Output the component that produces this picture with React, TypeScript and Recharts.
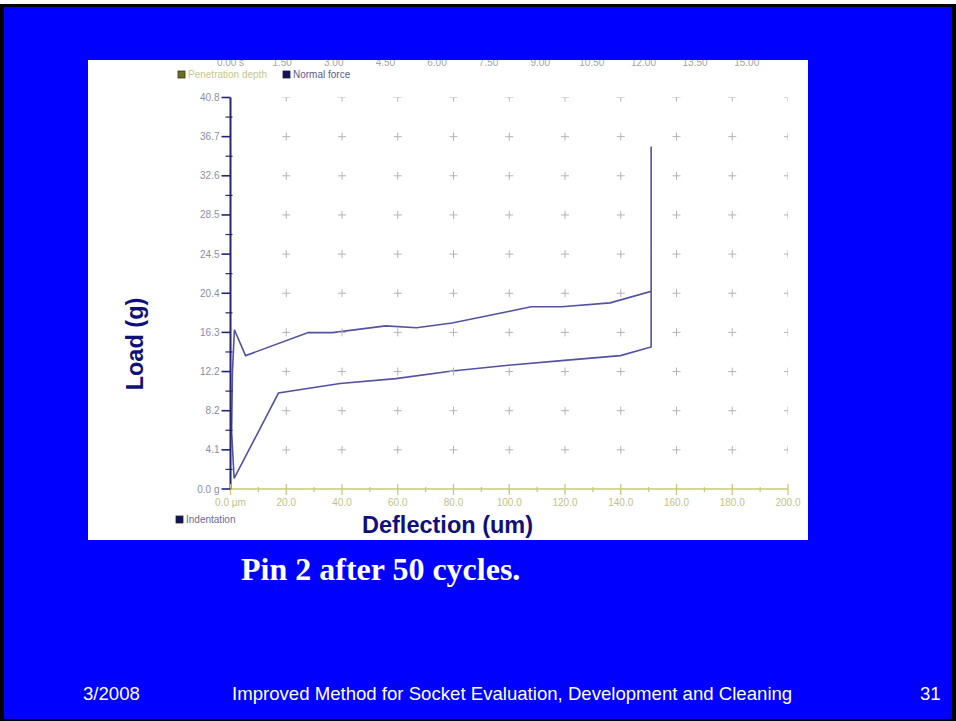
import { ComposedChart, Line, Scatter, XAxis, YAxis } from 'recharts';

// Indentation loop, points listed in the order the probe traced them
const deflectionUm = [1.3, 0.4, 0.7, 1.4, 5.4, 27.9, 36.6, 55.7, 66.7, 79.5, 99.7, 107.9, 118.8, 136.2, 150.9, 150.9, 150.9, 139.9, 119.8, 99.7, 79.5, 59.3, 39.3, 17.2, 1.3];
const loadG = [1.1, 6.0, 12.2, 16.6, 13.9, 16.3, 16.3, 17.0, 16.8, 17.3, 18.5, 19.0, 19.0, 19.4, 20.6, 35.7, 14.8, 13.9, 13.4, 12.9, 12.3, 11.5, 11.0, 10.0, 1.1];

const loadTicks = [0, 4.08, 8.16, 12.24, 16.32, 20.4, 24.48, 28.56, 32.64, 36.72, 40.8];
const loadTickLabels = ['0.0 g', '4.1', '8.2', '12.2', '16.3', '20.4', '24.5', '28.5', '32.6', '36.7', '40.8'];

const deflectionTicks = [0, 20, 40, 60, 80, 100, 120, 140, 160, 180, 200];
const deflectionTickLabels = ['0.0 µm', '20.0', '40.0', '60.0', '80.0', '100.0', '120.0', '140.0', '160.0', '180.0', '200.0'];

// elapsed time axis along the top runs on its own scale
const timeTicks = [0, 1.5, 3, 4.5, 6, 7.5, 9, 10.5, 12, 13.5, 15];
const timeTickLabels = ['0.00 s', '1.50', '3.00', '4.50', '6.00', '7.50', '9.00', '10.50', '12.00', '13.50', '15.00'];

const NAVY = '#24247a';
const OLIVE = '#c9c97a';
const FONT = 'Liberation Sans, Arial, sans-serif';

const loadMinor = loadTicks.slice(1).map((v, i) => (v + loadTicks[i]) / 2);
const deflectionMinor = deflectionTicks.slice(1).map((v, i) => (v + deflectionTicks[i]) / 2);

const curve = deflectionUm.map((x, i) => ({ x, y: loadG[i] }));

// grid crosses sit on every major tick pair away from the axes
const gridCrosses = deflectionTicks.slice(1).flatMap((x) => loadTicks.slice(1).map((y) => ({ x, y })));

const LoadTick = (props: any) => {
  const { x, y, payload } = props;
  const i = loadTicks.indexOf(payload.value);
  if (i < 0) {
    return <line x1={x - 5} x2={x + 2} y1={y} y2={y} stroke={NAVY} strokeWidth={1.2} />;
  }
  return (
    <g>
      <line x1={x - 9} x2={x} y1={y} y2={y} stroke={NAVY} strokeWidth={1.6} />
      <text x={x - 11} y={y} dy={3.5} textAnchor="end" fontSize={10} fontFamily={FONT} fill="#8c8ca8">
        {loadTickLabels[i]}
      </text>
    </g>
  );
};

const DeflectionTick = (props: any) => {
  const { x, y, payload } = props;
  const i = deflectionTicks.indexOf(payload.value);
  if (i < 0) {
    return <line x1={x} x2={x} y1={y - 2} y2={y + 3} stroke={OLIVE} strokeWidth={1.2} />;
  }
  return (
    <g>
      <line x1={x} x2={x} y1={y - 5} y2={y + 6} stroke={OLIVE} strokeWidth={1.3} />
      <text x={x} y={y + 17} textAnchor="middle" fontSize={10} fontFamily={FONT} fill="#c2c288">
        {deflectionTickLabels[i]}
      </text>
    </g>
  );
};

const TimeTick = (props: any) => {
  const { x, y, payload } = props;
  const i = timeTicks.indexOf(payload.value);
  return (
    <text x={x} y={y - 32} textAnchor="middle" fontSize={10} fontFamily={FONT} fill="#a4a4a4">
      {timeTickLabels[i]}
    </text>
  );
};

const Cross = (props: any) => {
  const { cx, cy } = props;
  return (
    <g stroke="#b4b4b4" strokeWidth={1}>
      <line x1={cx - 4} x2={cx + 4} y1={cy} y2={cy} />
      <line x1={cx} x2={cx} y1={cy - 4} y2={cy + 4} />
    </g>
  );
};

export default function App() {
  return (
    <div style={{ position: 'absolute', left: 0, top: 0, width: 956, height: 721, background: '#fff', overflow: 'hidden' }}>
      <div style={{ position: 'absolute', left: 0, top: 4, width: 956, height: 717, background: '#000' }} />
      <div style={{ position: 'absolute', left: 4, top: 7, width: 948, height: 712, background: '#0000ff' }} />

      <div style={{ position: 'absolute', left: 88, top: 60, width: 720, height: 480, background: '#fff', overflow: 'hidden' }}>
        <ComposedChart width={720} height={480} margin={{ top: 0, right: 20, bottom: 0, left: 0 }}>
          <XAxis
            xAxisId="defl"
            type="number"
            dataKey="x"
            domain={[0, 200]}
            ticks={[...deflectionTicks, ...deflectionMinor].sort((a, b) => a - b)}
            interval={0}
            allowDataOverflow
            height={51}
            tickSize={0}
            tickMargin={0}
            tickLine={false}
            axisLine={{ stroke: OLIVE, strokeWidth: 1.5 }}
            tick={DeflectionTick}
          />
          <XAxis
            xAxisId="time"
            orientation="top"
            type="number"
            dataKey="t"
            domain={[0, 16.2]}
            ticks={timeTicks}
            interval={0}
            allowDataOverflow
            height={37.5}
            tickSize={0}
            tickMargin={0}
            tickLine={false}
            axisLine={false}
            tick={TimeTick}
          />
          <YAxis
            type="number"
            dataKey="y"
            domain={[0, 40.8]}
            ticks={[...loadTicks, ...loadMinor].sort((a, b) => a - b)}
            interval={0}
            allowDataOverflow
            width={142.5}
            tickSize={0}
            tickMargin={0}
            tickLine={false}
            axisLine={{ stroke: NAVY, strokeWidth: 2 }}
            tick={LoadTick}
          />
          <Scatter xAxisId="defl" data={gridCrosses} shape={Cross} isAnimationActive={false} />
          <Line
            xAxisId="defl"
            data={curve}
            dataKey="y"
            type="linear"
            stroke="#5252a2"
            strokeWidth={1.6}
            dot={false}
            activeDot={false}
            isAnimationActive={false}
          />
        </ComposedChart>
      </div>

      <svg width={956} height={721} style={{ position: 'absolute', left: 0, top: 0, pointerEvents: 'none' }}>
        <g fontFamily={FONT} fontSize={10}>
          <rect x={178} y={71} width={7} height={7} fill="#6e6e14" stroke="#333" strokeWidth={0.8} />
          <text x={188} y={78} fill="#c6c68e">Penetration depth</text>
          <rect x={283} y={71} width={7} height={7} fill="#12125e" stroke="#222" strokeWidth={0.8} />
          <text x={293} y={78} fill="#5a5a92">Normal force</text>
          <rect x={176} y={516} width={7} height={7} fill="#12125e" stroke="#222" strokeWidth={0.8} />
          <text x={186} y={523} fill="#6a6a94">Indentation</text>
        </g>
        <g fontFamily={FONT} fontWeight="bold" fontSize={23.5} fill="#10107a">
          <text x={362} y={533}>Deflection (um)</text>
          <text x={143} y={344} textAnchor="middle" transform="rotate(-90 143 344)">Load (g)</text>
        </g>
        <text x={241} y={580} fontFamily="Liberation Serif, Times New Roman, serif" fontWeight="bold" fontSize={32} fill="#fff">
          Pin 2 after 50 cycles.
        </text>
        <g fontFamily={FONT} fontSize={18.6} fill="#fff">
          <text x={83} y={700}>3/2008</text>
          <text x={232} y={700}>Improved Method for Socket Evaluation, Development and Cleaning</text>
          <text x={920} y={700}>31</text>
        </g>
      </svg>
    </div>
  );
}
